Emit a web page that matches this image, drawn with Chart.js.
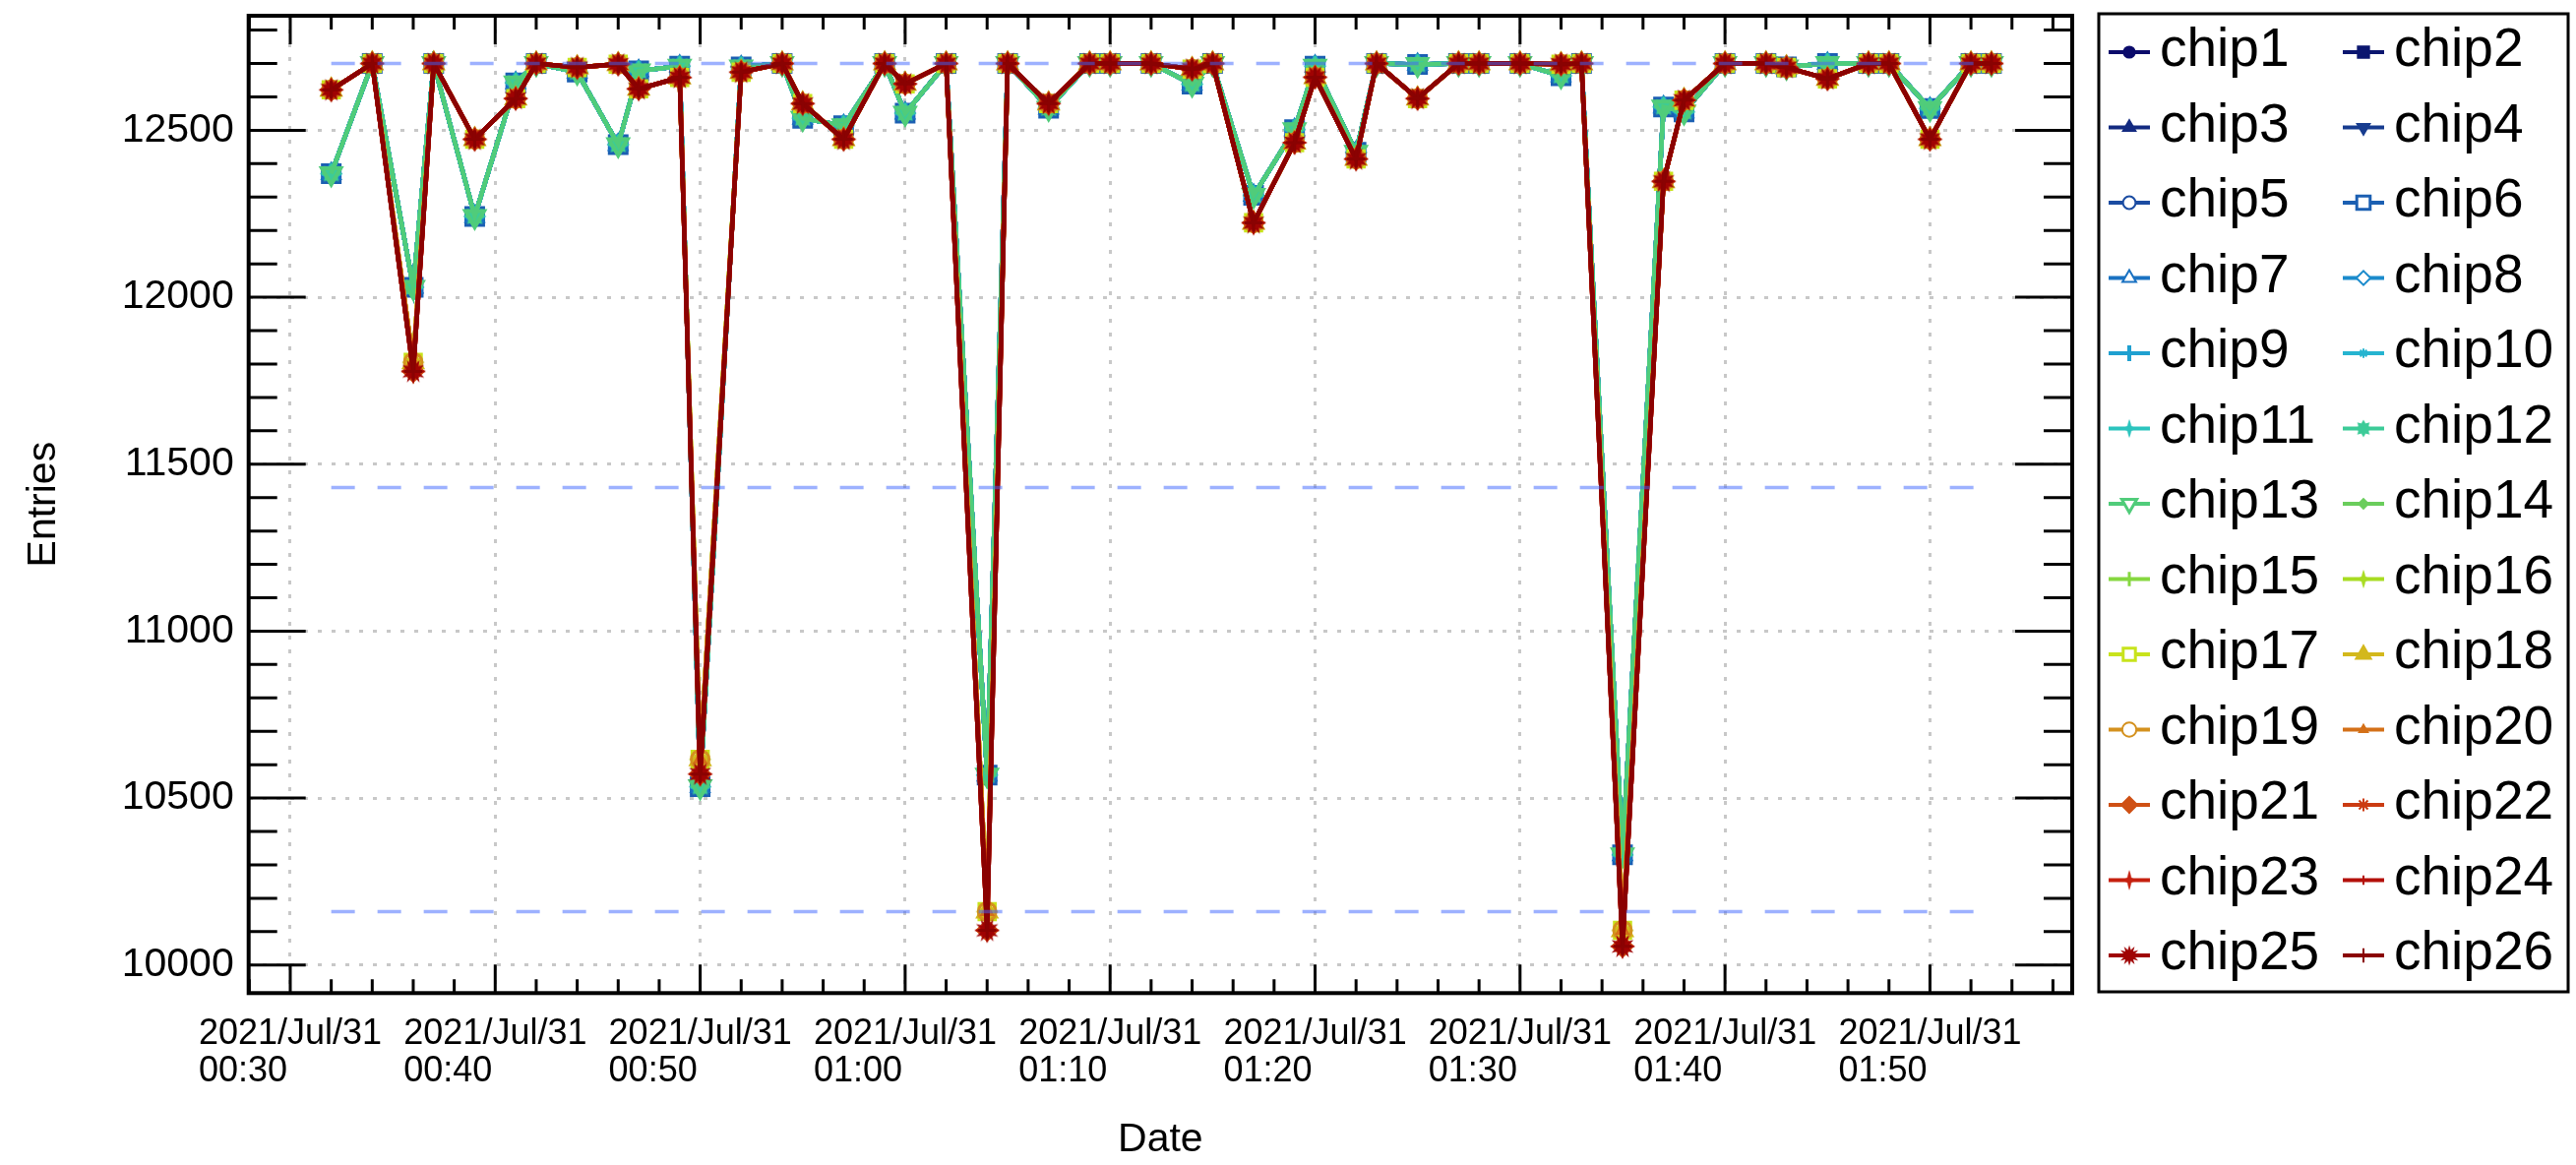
<!DOCTYPE html>
<html>
<head>
<meta charset="utf-8">
<title>Entries vs Date</title>
<script src="https://cdn.jsdelivr.net/npm/chart.js@4.4.1/dist/chart.umd.min.js"></script>
<style>
  html, body { margin: 0; padding: 0; background: #fff; }
  #wrap { width: 2618px; height: 1184px; }
</style>
</head>
<body>
<div id="wrap"><canvas id="myChart" width="2618" height="1184"></canvas></div>
<script>
// minutes after 00:00 on 2021/Jul/31
const timeMinutes = [32, 34, 36, 37, 39, 41, 42, 44, 46, 47, 49, 50, 52, 54, 55, 57, 59, 60, 62, 64,
  65, 67, 69, 70, 72, 74, 75, 77, 79, 80, 82, 83, 85, 87, 88, 90, 92, 93, 95, 97,
  98, 100, 102, 103, 105, 107, 108, 110, 112, 113];

// chips 1-13
const entriesLow = [12370, 12700, 12030, 12700, 12242, 12642, 12700, 12674, 12457, 12678,
  12692, 10534, 12690, 12700, 12536, 12514, 12700, 12551, 12700, 10569,
  12700, 12566, 12700, 12700, 12700, 12638, 12700, 12305, 12502, 12692,
  12434, 12700, 12697, 12700, 12700, 12700, 12663, 12700, 10330, 12570,
  12555, 12700, 12700, 12690, 12700, 12700, 12700, 12565, 12700, 12700];

// chips 14-20
const entriesMid = [12621, 12700, 11805, 12700, 12473, 12595, 12700, 12688, 12698, 12624,
  12658, 10616, 12674, 12700, 12580, 12473, 12700, 12639, 12700, 10160,
  12700, 12580, 12700, 12700, 12700, 12683, 12700, 12223, 12463, 12659,
  12414, 12700, 12595, 12700, 12700, 12700, 12698, 12700, 10104, 12347,
  12590, 12700, 12700, 12688, 12654, 12700, 12700, 12473, 12700, 12700];

// chips 21-26
const entriesHigh = [12621, 12700, 11778, 12700, 12473, 12595, 12700, 12688, 12698, 12624,
  12658, 10572, 12674, 12700, 12580, 12473, 12700, 12639, 12700, 10104,
  12700, 12580, 12700, 12700, 12700, 12683, 12700, 12223, 12463, 12659,
  12414, 12700, 12595, 12700, 12700, 12700, 12698, 12700, 10056, 12347,
  12590, 12700, 12700, 12688, 12654, 12700, 12700, 12473, 12700, 12700];

// reference levels (100%, 90%, 80%)
const refLevels = [12700, 11430, 10160];

// axis ticks
const yTickValues = [10000, 10500, 11000, 11500, 12000, 12500];
const xTickMinutes = [30, 40, 50, 60, 70, 80, 90, 100, 110];

const chipColors = ['#0b0b6b', '#0b166f', '#132a80', '#173c8f', '#1b4ca2', '#1b5fb2', '#1a72c2', '#1b8bcc',
  '#1fa0d0', '#26b4d0', '#2bc4be', '#3ccb98', '#50cc7a', '#6acd5c', '#86d740', '#a8dc22',
  '#c8e31c', '#d3b81c', '#d4911e', '#d47018', '#cf5014', '#cb3b12', '#c6200f', '#b4100a',
  '#9f0303', '#8a0202'];

Chart.defaults.font.family = '"Liberation Sans", Arial, Helvetica, sans-serif';
Chart.defaults.color = '#000';

function starImage(color, spikes, outer, inner) {
  const c = document.createElement('canvas');
  const s = Math.ceil(outer * 2 + 2);
  c.width = c.height = s;
  const g = c.getContext('2d');
  g.fillStyle = color;
  g.beginPath();
  for (let k = 0; k < spikes * 2; k++) {
    const r = k % 2 ? inner : outer;
    const a = Math.PI * k / spikes - Math.PI / 2;
    g.lineTo(s / 2 + r * Math.cos(a), s / 2 + r * Math.sin(a));
  }
  g.closePath();
  g.fill();
  return c;
}

const M = (style, radius, filled, rotation = 0, bw = 3) => ({ style, radius, filled, rotation, bw });
const col = i => chipColors[i - 1];
const chipMarks = [
  M('circle', 7, true), M('rect', 10, true), M('triangle', 9, true), M('triangle', 9, true, 180),
  M('circle', 8, false), M('rect', 12, false, 0, 4), M('triangle', 10, false), M('rectRot', 9, false),
  M('cross', 10, false, 0, 5), M('star', 6, false, 0, 2), M(starImage(col(11), 4, 12, 4), 12, true),
  M(starImage(col(12), 8, 11, 7), 11, true), M('triangle', 11, false, 180, 4), M('rectRot', 6, true),
  M('cross', 9, false, 0, 4), M(starImage(col(16), 4, 12, 4), 12, true), M('rect', 11, false, 0, 4),
  M('triangle', 11, true), M('circle', 9, false), M('triangle', 6, true), M('rectRot', 10, true),
  M('star', 8, false), M(starImage(col(23), 4, 13, 4), 13, true), M('cross', 6, false, 0, 2),
  M(starImage(col(25), 12, 13, 7), 13, true), M('cross', 9, false)
];

function seriesFor(n) {
  if (n <= 13) return entriesLow;
  if (n <= 20) return entriesMid;
  return entriesHigh;
}

const datasets = [];
for (let n = 1; n <= 26; n++) {
  const mk = chipMarks[n - 1];
  const vals = seriesFor(n);
  datasets.push({
    label: 'chip' + n,
    chip: n,
    data: timeMinutes.map((t, k) => ({ x: t, y: vals[k] })),
    borderColor: col(n),
    borderWidth: 4.5,
    pointStyle: mk.style,
    pointRadius: mk.radius,
    pointHoverRadius: mk.radius,
    pointRotation: mk.rotation,
    pointBorderWidth: mk.bw,
    pointBorderColor: col(n),
    pointBackgroundColor: mk.filled ? col(n) : 'rgba(0,0,0,0)',
    tension: 0,
    order: 27 - n
  });
}
refLevels.forEach(lvl => {
  datasets.push({
    label: 'ref' + lvl,
    data: [{ x: timeMinutes[0], y: lvl }, { x: timeMinutes[timeMinutes.length - 1], y: lvl }],
    borderColor: 'rgba(60,100,255,0.5)',
    borderWidth: 3.5,
    borderDash: [24, 23],
    pointRadius: 0,
    order: 0
  });
});

const pad2 = v => String(v).padStart(2, '0');

// ROOT style frame with inner ticks on all sides
const rootFrame = {
  id: 'rootFrame',
  afterDraw(chart) {
    const { ctx, chartArea: a, scales: { x, y } } = chart;
    ctx.save();
    ctx.strokeStyle = '#000';
    ctx.lineWidth = 3;
    ctx.beginPath();
    for (let v = Math.ceil(y.min / 100) * 100; v <= y.max; v += 100) {
      const py = y.getPixelForValue(v);
      const len = v % 500 === 0 ? 58 : 29;
      ctx.moveTo(a.left, py); ctx.lineTo(a.left + len, py);
      ctx.moveTo(a.right, py); ctx.lineTo(a.right - len, py);
    }
    for (let v = Math.ceil(x.min / 2) * 2; v <= x.max; v += 2) {
      const px = x.getPixelForValue(v);
      const len = v % 10 === 0 ? 29 : 14;
      ctx.moveTo(px, a.bottom); ctx.lineTo(px, a.bottom - len);
      ctx.moveTo(px, a.top); ctx.lineTo(px, a.top + len);
    }
    ctx.stroke();
    ctx.lineWidth = 4;
    ctx.strokeRect(a.left, a.top, a.right - a.left, a.bottom - a.top);
    ctx.restore();
  }
};

// two-column legend box, row-major like the original
const chipLegend = {
  id: 'chipLegend',
  afterDraw(chart) {
    const ctx = chart.ctx;
    ctx.save();
    ctx.lineWidth = 3;
    ctx.strokeStyle = '#000';
    ctx.strokeRect(2133, 14, 477, 994);
    ctx.font = '55px "Liberation Sans", Arial, sans-serif';
    ctx.textBaseline = 'middle';
    ctx.textAlign = 'left';
    chart.data.datasets.forEach(ds => {
      if (!ds.chip) return;
      const i = ds.chip - 1;
      const row = Math.floor(i / 2);
      const x0 = i % 2 ? 2381 : 2143;
      const cy = 53 + row * 76.5;
      const c = ds.borderColor;
      ctx.strokeStyle = c;
      ctx.lineWidth = 4;
      ctx.beginPath();
      ctx.moveTo(x0, cy); ctx.lineTo(x0 + 42, cy);
      ctx.stroke();
      const mk = chipMarks[i];
      if (typeof mk.style === 'object') {
        const w = mk.style.width * 0.8, h = mk.style.height * 0.8;
        ctx.drawImage(mk.style, x0 + 21 - w / 2, cy - h / 2, w, h);
      } else if (Chart.helpers && Chart.helpers.drawPoint) {
        ctx.fillStyle = mk.filled ? c : '#fff';
        ctx.lineWidth = Math.max(2, mk.bw - 1);
        Chart.helpers.drawPoint(ctx, { pointStyle: mk.style, radius: mk.radius * 0.8, rotation: mk.rotation, borderWidth: mk.bw }, x0 + 21, cy);
      }
      ctx.fillStyle = '#000';
      ctx.fillText(ds.label, x0 + 52, cy - 1);
    });
    ctx.restore();
  }
};

new Chart(document.getElementById('myChart'), {
  type: 'line',
  data: { datasets },
  plugins: [rootFrame, chipLegend],
  options: {
    responsive: false,
    devicePixelRatio: 1,
    animation: false,
    events: [],
    layout: { padding: { top: 14, right: 512, left: 0, bottom: 0 } },
    plugins: { legend: { display: false }, tooltip: { enabled: false } },
    scales: {
      x: {
        type: 'linear',
        position: 'bottom',
        min: 27.97,
        max: 116.94,
        afterBuildTicks(s) { s.ticks = xTickMinutes.map(v => ({ value: v })); },
        afterFit(s) { s.height = 174.7; s.paddingLeft = 0; s.paddingRight = 0; },
        border: { display: false, dash: [4, 10] },
        grid: { color: '#c8c8c8', lineWidth: 3, drawTicks: false },
        ticks: {
          autoSkip: false,
          maxRotation: 0,
          align: 'start',
          labelOffset: -93,
          padding: 23,
          color: '#000',
          font: { size: 36, lineHeight: 1.05 },
          callback: v => {
            const m = Math.round(v);
            return ['2021/Jul/31', pad2(Math.floor(m / 60)) + ':' + pad2(m % 60)];
          }
        },
        title: { display: true, text: 'Date', color: '#000', font: { size: 41 }, padding: { top: 0, bottom: 1 } }
      },
      y: {
        type: 'linear',
        min: 9916,
        max: 12843,
        afterBuildTicks(s) { s.ticks = yTickValues.map(v => ({ value: v })); },
        afterFit(s) { s.width = 252.7; s.paddingTop = 0; s.paddingBottom = 0; },
        border: { display: false, dash: [4, 10] },
        grid: { color: '#c8c8c8', lineWidth: 3, drawTicks: false },
        ticks: {
          autoSkip: false,
          padding: 15,
          color: '#000',
          font: { size: 41 },
          callback: v => String(v)
        },
        title: { display: true, text: 'Entries', color: '#000', font: { size: 41 }, padding: { top: 20, bottom: 0 } }
      }
    }
  }
});
</script>
</body>
</html>
